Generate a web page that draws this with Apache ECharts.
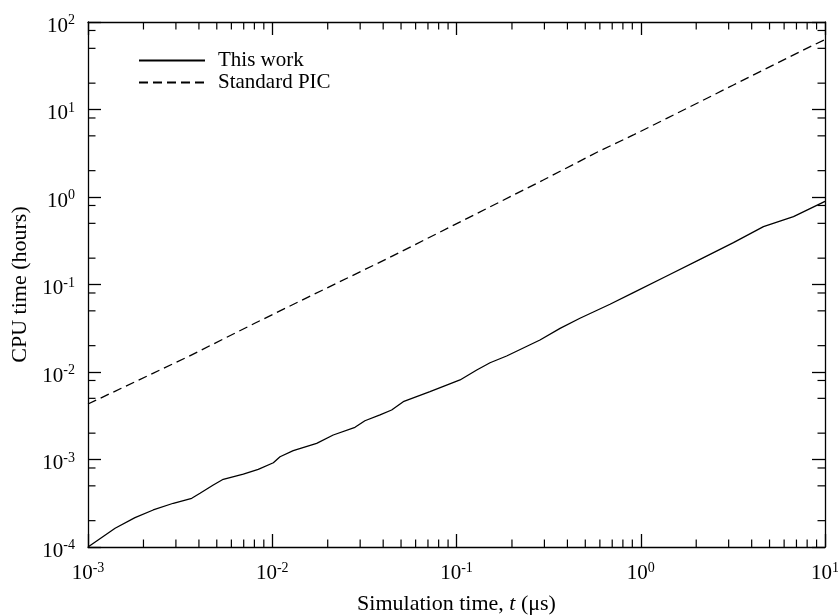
<!DOCTYPE html>
<html>
<head>
<meta charset="utf-8">
<script src="https://cdn.jsdelivr.net/npm/echarts@6/dist/echarts.min.js"></script>
<style>
  html, body { margin: 0; padding: 0; background: #fff; }
  #chart { width: 838px; height: 615px; }
</style>
</head>
<body>
<div id="chart"></div>
<script>
// This work (solid)
const workT = [0.001, 0.001403, 0.001799, 0.002259, 0.002904, 0.003656, 0.004055, 0.004786,
  0.005420, 0.006966, 0.008395, 0.01014, 0.01102, 0.01300, 0.01742, 0.02143, 0.02812, 0.03184,
  0.03846, 0.04446, 0.05140, 0.07178, 0.1045, 0.1288, 0.1521, 0.1871, 0.2838, 0.3648, 0.4677,
  0.6808, 0.9120, 1.384, 2.099, 3.184, 4.634, 6.745, 10];
const workCpu = [1.0e-4, 1.637e-4, 2.163e-4, 2.649e-4, 3.162e-4, 3.606e-4, 4.111e-4, 5.117e-4,
  5.943e-4, 6.823e-4, 7.727e-4, 9.183e-4, 1.076e-3, 1.262e-3, 1.531e-3, 1.905e-3, 2.333e-3, 2.773e-3,
  3.228e-3, 3.681e-3, 4.581e-3, 5.957e-3, 8.110e-3, 1.054e-2, 1.276e-2, 1.524e-2, 2.323e-2, 3.155e-2, 4.111e-2,
  5.943e-2, 8.072e-2, 0.1250, 0.1941, 0.3006, 0.4581, 0.5957, 0.891];

// Standard PIC (dashed)
const picT = [0.001, 0.001517, 0.003491, 0.008035, 0.01845, 0.04246, 0.2958, 0.6012, 0.9120,
  1.384, 2.099, 3.184, 4.819, 7.311, 10];
const picCpu = [4.305e-3, 6.516e-3, 1.496e-2, 3.606e-2, 8.492e-2, 0.1991, 1.563, 3.381, 5.117,
  7.925, 12.27, 19.05, 29.51, 45.81, 63.1];

// minor tick positions
const xMinorTicks = [
  0.002, 0.003, 0.004, 0.005, 0.006, 0.007, 0.008, 0.009,
  0.02, 0.03, 0.04, 0.05, 0.06, 0.07, 0.08, 0.09,
  0.2, 0.3, 0.4, 0.5, 0.6, 0.7, 0.8, 0.9,
  2, 3, 4, 5, 6, 7, 8, 9
];
const yMinorTicks = [
  2e-4, 5e-4, 8e-4, 2e-3, 5e-3, 8e-3, 0.02, 0.05, 0.08,
  0.2, 0.5, 0.8, 2, 5, 8, 20, 50, 80
];

const seriesNames = ['This work', 'Standard PIC'];

const font = 'Liberation Serif';
const ink = '#000';

function pow10Label(v) {
  const e = Math.round(Math.log10(v));
  return '{b|10}{s|' + e + '}';
}
const richLabel = {
  b: { fontFamily: font, fontSize: 21, color: ink, verticalAlign: 'bottom' },
  s: { fontFamily: font, fontSize: 14, color: ink, verticalAlign: 'bottom', padding: [0, 0, 9, 0] }
};

function logAxis(extra) {
  return Object.assign({
    type: 'log',
    logBase: 10,
    axisLine: { show: true, onZero: false, lineStyle: { color: ink, width: 1.3 } },
    axisTick: { show: true, inside: true, length: 13, lineStyle: { color: ink, width: 1.3 } },
    splitLine: { show: false },
    minorTick: { show: false }
  }, extra);
}

const chart = echarts.init(document.getElementById('chart'), null, { renderer: 'canvas' });

function tickSeries(values, dir) {
  return {
    type: 'custom',
    silent: true,
    xAxisIndex: 0,
    yAxisIndex: 0,
    clip: false,
    data: values.map(v => dir === 'x' ? [v, 1] : [1, v]),
    renderItem: function (params, api) {
      const cs = params.coordSys;
      const v = api.value(dir === 'x' ? 0 : 1);
      const style = { stroke: ink, lineWidth: 1.2 };
      const len = 7.5;
      if (dir === 'x') {
        const px = api.coord([v, 1])[0];
        return { type: 'group', children: [
          { type: 'line', shape: { x1: px, y1: cs.y + cs.height, x2: px, y2: cs.y + cs.height - len }, style },
          { type: 'line', shape: { x1: px, y1: cs.y, x2: px, y2: cs.y + len }, style }
        ] };
      }
      const py = api.coord([1, v])[1];
      return { type: 'group', children: [
        { type: 'line', shape: { x1: cs.x, y1: py, x2: cs.x + len, y2: py }, style },
        { type: 'line', shape: { x1: cs.x + cs.width, y1: py, x2: cs.x + cs.width - len, y2: py }, style }
      ] };
    }
  };
}

chart.setOption({
  animation: false,
  backgroundColor: '#fff',
  textStyle: { fontFamily: font },
  grid: { left: 88, top: 22, right: 13, bottom: 68, containLabel: false, outerBoundsMode: 'none' },
  legend: {
    data: seriesNames,
    orient: 'vertical',
    left: 138,
    top: 50,
    padding: 0,
    itemWidth: 66,
    itemHeight: 10,
    itemGap: 1,
    itemStyle: { opacity: 0 },
    textStyle: { fontFamily: font, fontSize: 21, lineHeight: 21, color: ink, padding: [0, 0, 0, 8] }
  },
  xAxis: [
    logAxis({
      min: 0.001, max: 10, position: 'bottom',
      axisLabel: { formatter: pow10Label, rich: richLabel, margin: 14 },
      name: 'Simulation time, {i|t} (μs)',
      nameLocation: 'middle',
      nameGap: 46,
      nameTextStyle: { fontFamily: font, fontSize: 22, color: ink,
        rich: { i: { fontFamily: font, fontSize: 22, fontStyle: 'italic', color: ink } } }
    }),
    logAxis({ min: 0.001, max: 10, position: 'top', axisLabel: { show: false } })
  ],
  yAxis: [
    logAxis({
      min: 1e-4, max: 100, position: 'left',
      axisLabel: { formatter: pow10Label, rich: richLabel, margin: 13, padding: [6, 0, 0, 0] },
      name: 'CPU time (hours)',
      nameLocation: 'middle',
      nameGap: 56,
      nameTextStyle: { fontFamily: font, fontSize: 22, color: ink }
    }),
    logAxis({ min: 1e-4, max: 100, position: 'right', axisLabel: { show: false } })
  ],
  series: [
    {
      name: seriesNames[0],
      type: 'line',
      showSymbol: false,
      symbol: 'none',
      data: workT.map((t, i) => [t, workCpu[i]]),
      lineStyle: { color: ink, width: 1.3 },
      itemStyle: { color: ink }
    },
    {
      name: seriesNames[1],
      type: 'line',
      showSymbol: false,
      symbol: 'none',
      data: picT.map((t, i) => [t, picCpu[i]]),
      lineStyle: { color: ink, width: 1.3, type: [9, 5] },
      itemStyle: { color: ink }
    },
    tickSeries(xMinorTicks, 'x'),
    tickSeries(yMinorTicks, 'y')
  ]
});
</script>
</body>
</html>
